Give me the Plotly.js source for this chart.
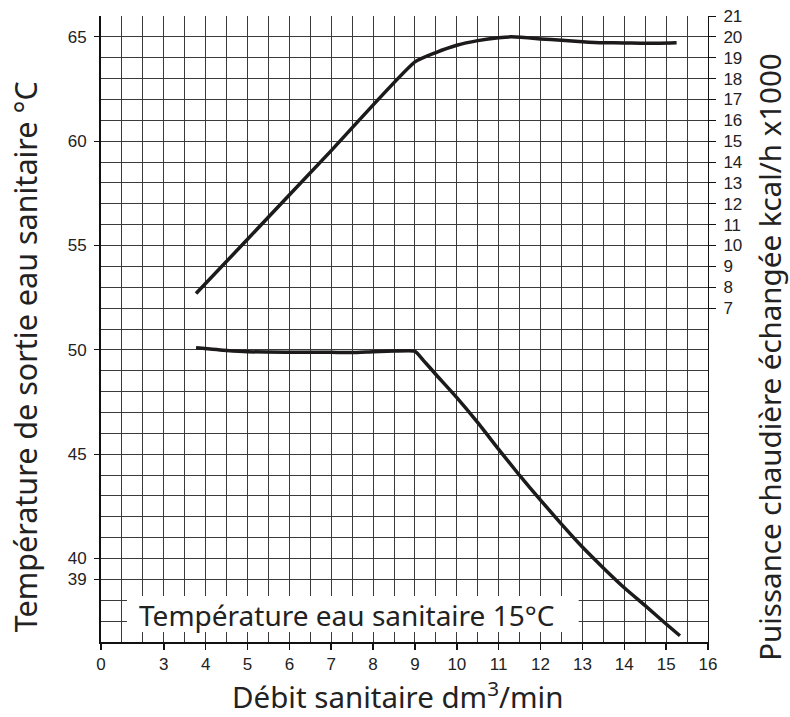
<!DOCTYPE html>
<html>
<head>
<meta charset="utf-8">
<script src="https://cdn.plot.ly/plotly-3.0.1.min.js"></script>
<style>html,body{margin:0;padding:0;background:#fff;}</style>
</head>
<body>
<div id="chart" style="width:790px;height:717px;"></div>
<script>
// Débit sanitaire (dm3/min) – power curve
const powerX = [3.77, 5, 7, 9.0, 9.5, 10, 10.5, 11, 11.3, 12, 12.5, 13, 13.5, 14, 14.5, 15.25];
// Puissance chaudière échangée (kcal/h x1000)
const powerY = [7.7, 10.3, 14.55, 18.8, 19.25, 19.6, 19.82, 19.96, 20.0, 19.9, 19.84, 19.77, 19.72, 19.71, 19.69, 19.72];

// Débit sanitaire (dm3/min) – outlet temperature curve
const tempX = [3.77, 4.5, 5, 6, 7, 7.5, 8, 8.5, 9.0, 9.2, 9.5, 10, 10.5, 11, 11.5, 12, 12.5, 13, 13.5, 14, 14.5, 15, 15.33];
// Température de sortie eau sanitaire (°C)
const tempY = [50.1, 49.97, 49.91, 49.89, 49.88, 49.87, 49.91, 49.94, 49.93, 49.5, 48.82, 47.71, 46.51, 45.23, 43.98, 42.8, 41.65, 40.55, 39.55, 38.6, 37.74, 36.86, 36.3];

// Tick labels
const xTickVals = [1.5, 3, 4, 5, 6, 7, 8, 9, 10, 11, 12, 13, 14, 15, 16];
const xTickText = ["0", "3", "4", "5", "6", "7", "8", "9", "10", "11", "12", "13", "14", "15", "16"];
const yLeftTicks = [39, 40, 45, 50, 55, 60, 65];
const yRightTicks = [7, 8, 9, 10, 11, 12, 13, 14, 15, 16, 17, 18, 19, 20, 21];

// Texts
const xTitle = 'Débit sanitaire dm<sup>3</sup>/min';
const yLeftTitle = 'Température de sortie eau sanitaire °C';
const yRightTitle = 'Puissance chaudière échangée kcal/h x1000';
const noteText = 'Température eau sanitaire 15°C';

const lineColor = '#1c1a1a';
const gridColor = '#3a3a3a';
const tickFont = {family: 'Liberation Sans, Arial, sans-serif', size: 17, color: '#222'};
const titleFont = {family: 'Noto Sans, sans-serif', size: 30.5, color: '#222'};

const traces = [
  {
    x: powerX, y: powerY, yaxis: 'y2', type: 'scatter', mode: 'lines',
    line: {color: lineColor, width: 3.5, shape: 'spline', smoothing: 0.5},
    hoverinfo: 'skip', showlegend: false
  },
  {
    x: tempX, y: tempY, yaxis: 'y', type: 'scatter', mode: 'lines',
    line: {color: lineColor, width: 3.5, shape: 'spline', smoothing: 0.5},
    hoverinfo: 'skip', showlegend: false
  }
];

const layout = {
  width: 790, height: 717,
  margin: {l: 101, r: 82, t: 16, b: 75, pad: 0},
  paper_bgcolor: '#fff', plot_bgcolor: '#fff',
  showlegend: false,
  xaxis: {
    range: [1.5, 16], tickmode: 'array', tickvals: xTickVals, ticktext: xTickText,
    showgrid: true, gridcolor: gridColor, gridwidth: 1,
    minor: {tickmode: 'linear', tick0: 0, dtick: 0.5, showgrid: true, gridcolor: gridColor, gridwidth: 1, ticks: ''},
    showline: true, linecolor: '#111', linewidth: 2,
    ticks: 'outside', ticklen: 6, tickwidth: 1.5, tickcolor: '#111',
    tickfont: tickFont, zeroline: false, fixedrange: true
  },
  yaxis: {
    range: [36, 66], tickmode: 'array', tickvals: yLeftTicks,
    showgrid: true, gridcolor: gridColor, gridwidth: 1,
    minor: {tickmode: 'linear', tick0: 0, dtick: 1, showgrid: true, gridcolor: gridColor, gridwidth: 1, ticks: ''},
    showline: true, linecolor: '#111', linewidth: 2,
    ticks: 'outside', ticklen: 5, tickwidth: 1, tickcolor: '#111',
    tickfont: tickFont, ticklabelstandoff: 4, zeroline: false, fixedrange: true
  },
  yaxis2: {
    range: [-9, 21], overlaying: 'y', side: 'right', anchor: 'x',
    tickmode: 'array', tickvals: yRightTicks,
    showgrid: false, showline: true, linecolor: '#111', linewidth: 1,
    ticks: 'outside', ticklen: 7, tickwidth: 1, tickcolor: '#111',
    tickfont: tickFont, ticklabelstandoff: 4, zeroline: false, fixedrange: true
  },
  shapes: [{
    type: 'rect', xref: 'x', yref: 'y', x0: 2.12, x1: 12.91, y0: 36.48, y1: 38.2,
    fillcolor: '#fff', line: {width: 0}, layer: 'above'
  }],
  annotations: [
    {
      xref: 'x', yref: 'y', x: 2.36, y: 37.28, xanchor: 'left', yanchor: 'middle',
      text: noteText, showarrow: false,
      font: {family: 'Noto Sans, sans-serif', size: 28, color: '#222'}
    },
    {
      xref: 'paper', yref: 'paper', x: 0.488, y: -0.086, xanchor: 'center', yanchor: 'middle',
      text: xTitle, showarrow: false, font: {family: 'Noto Sans, sans-serif', size: 29.5, color: '#222'}
    },
    {
      xref: 'paper', yref: 'paper', x: -0.125, y: 0.455, xanchor: 'center', yanchor: 'middle',
      text: yLeftTitle, textangle: -90, showarrow: false, font: titleFont
    },
    {
      xref: 'paper', yref: 'paper', x: 1.1, y: 0.455, xanchor: 'center', yanchor: 'middle',
      text: yRightTitle, textangle: -90, showarrow: false, font: {family: 'Noto Sans, sans-serif', size: 29.5, color: '#222'}
    }
  ]
};

Plotly.newPlot('chart', traces, layout, {staticPlot: true, displayModeBar: false});
</script>
</body>
</html>
